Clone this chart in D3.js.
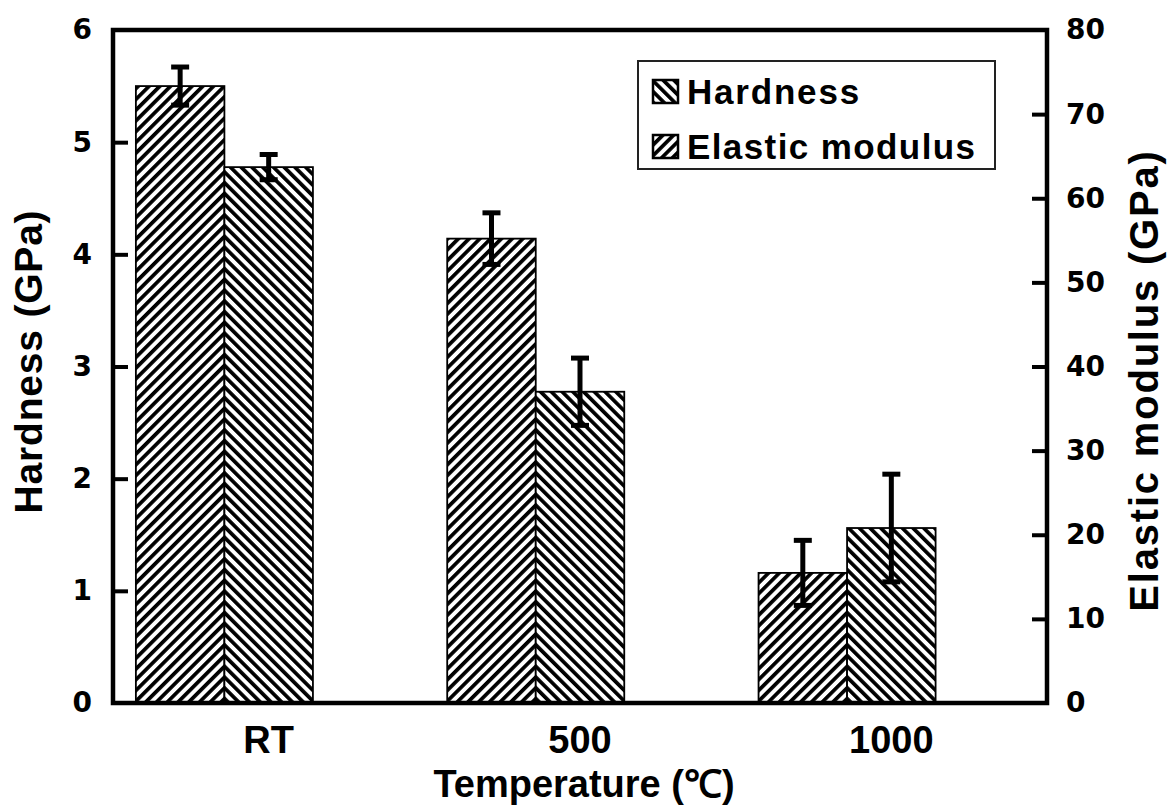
<!DOCTYPE html>
<html>
<head>
<meta charset="utf-8">
<script src="https://cdn.jsdelivr.net/npm/d3@7"></script>
<style>
  html, body { margin: 0; padding: 0; background: #fff; }
  svg { display: block; }
  text { font-family: "Liberation Sans", Arial, sans-serif; font-weight: bold; fill: #000; }
</style>
</head>
<body>
<svg id="chart" width="1174" height="808"></svg>
<script>
// ---- data ----
const categories = ["RT", "500", "1000"];
const seriesNames = ["Hardness", "Elastic modulus"];
const hardness = [5.50, 4.14, 1.16];
const hardnessErr = [0.17, 0.23, 0.29];
const modulus = [63.7, 37.0, 20.8];
const modulusErr = [1.5, 4.0, 6.4];
const leftTicks = [0, 1, 2, 3, 4, 5, 6];
const rightTicks = [0, 10, 20, 30, 40, 50, 60, 70, 80];

// ---- layout ----
const W = 1174, H = 808;
const L = 113, R = 1047, T = 30, B = 703;

const svg = d3.select("#chart");
svg.append("rect").attr("width", W).attr("height", H).attr("fill", "#fff");

// patterns
const defs = svg.append("defs");
const period = 7.6, stripe = 3.7;
function hatch(id, angle) {
  const p = defs.append("pattern")
    .attr("id", id).attr("patternUnits", "userSpaceOnUse")
    .attr("width", period).attr("height", period)
    .attr("patternTransform", `rotate(${angle})`);
  p.append("rect").attr("width", period).attr("height", period).attr("fill", "#fff");
  p.append("rect").attr("x", 0).attr("y", 0).attr("width", stripe).attr("height", period).attr("fill", "#000");
}
hatch("fwd", 45);   // "/" stripes
hatch("back", -45); // "\" stripes

// scales
const x0 = d3.scaleBand().domain(categories).range([L, R])
  .paddingInner(0.147).paddingOuter(0.0735);
const x1 = d3.scaleBand().domain([0, 1, 2]).range([0, x0.bandwidth()]);
const yL = d3.scaleLinear().domain([0, 6]).range([B, T]);
const yR = d3.scaleLinear().domain([0, 80]).range([B, T]);

// bars
const groups = svg.append("g").selectAll("g").data(categories).join("g")
  .attr("transform", d => `translate(${x0(d)},0)`);

groups.append("rect")
  .attr("x", x1(0)).attr("width", x1.bandwidth())
  .attr("y", (d, i) => yL(hardness[i]))
  .attr("height", (d, i) => B - yL(hardness[i]))
  .attr("fill", "url(#fwd)").attr("stroke", "#000").attr("stroke-width", 1.8);

groups.append("rect")
  .attr("x", x1(1)).attr("width", x1.bandwidth())
  .attr("y", (d, i) => yR(modulus[i]))
  .attr("height", (d, i) => B - yR(modulus[i]))
  .attr("fill", "url(#back)").attr("stroke", "#000").attr("stroke-width", 1.8);

// error bars
function errBar(g, cx, yScale, vals, errs) {
  g.append("line")
    .attr("x1", cx).attr("x2", cx)
    .attr("y1", (d, i) => yScale(vals[i] + errs[i]))
    .attr("y2", (d, i) => yScale(vals[i] - errs[i]))
    .attr("stroke", "#000").attr("stroke-width", 5);
  [1, -1].forEach(s => {
    g.append("line")
      .attr("x1", cx - 9).attr("x2", cx + 9)
      .attr("y1", (d, i) => yScale(vals[i] + s * errs[i]))
      .attr("y2", (d, i) => yScale(vals[i] + s * errs[i]))
      .attr("stroke", "#000").attr("stroke-width", 5);
  });
}
errBar(groups, x1(0) + x1.bandwidth() / 2, yL, hardness, hardnessErr);
errBar(groups, x1(1) + x1.bandwidth() / 2, yR, modulus, modulusErr);

// axes
const axL = svg.append("g").attr("transform", `translate(${L},0)`)
  .call(d3.axisLeft(yL).tickValues(leftTicks).tickSize(-15).tickPadding(21).tickFormat(d3.format("d")));
const axR = svg.append("g").attr("transform", `translate(${R},0)`)
  .call(d3.axisRight(yR).tickValues(rightTicks).tickSize(-15).tickPadding(19).tickFormat(d3.format("d")));
[axL, axR].forEach(a => {
  a.select(".domain").remove();
  a.selectAll(".tick line").attr("stroke", "#000").attr("stroke-width", 4);
  a.selectAll(".tick text").style("font-family", "'DejaVu Sans', sans-serif")
    .style("font-weight", "bold").style("font-size", "28px");
});
axL.selectAll(".tick").filter(d => d === 0 || d === 6).select("line").remove();
axR.selectAll(".tick").filter(d => d === 0 || d === 80).select("line").remove();

const axB = svg.append("g").attr("transform", `translate(0,${B})`)
  .call(d3.axisBottom(x0).tickSize(0).tickPadding(23));
axB.select(".domain").remove();
axB.selectAll(".tick text").style("font-size", "38px").style("font-family", "'Liberation Sans', Arial, sans-serif").style("font-weight", "bold");

// frame
svg.append("path")
  .attr("d", `M${L},${T}H${R}V${B}H${L}Z`)
  .attr("fill", "none").attr("stroke", "#000").attr("stroke-width", 4.5);

// axis titles
svg.append("text").attr("x", 584).attr("y", 797).attr("text-anchor", "middle")
  .style("font-size", "38px").text("Temperature (℃)");
svg.append("text").attr("transform", `translate(42,${(T + B) / 2 - 5}) rotate(-90)`)
  .attr("text-anchor", "middle").style("font-size", "39px").style("letter-spacing", "0.8px").text("Hardness (GPa)");
svg.append("text").attr("transform", `translate(1158,${(T + B) / 2 + 14}) rotate(-90)`)
  .attr("text-anchor", "middle").style("font-size", "40px").style("letter-spacing", "1.8px").text("Elastic modulus (GPa)");

// legend
const lg = svg.append("g");
lg.append("rect").attr("x", 638).attr("y", 61).attr("width", 357).attr("height", 108)
  .attr("fill", "#fff").attr("stroke", "#222").attr("stroke-width", 2);
const legendFills = ["url(#back)", "url(#fwd)"];
const legendY = [80, 135];
seriesNames.forEach((name, i) => {
  lg.append("rect").attr("x", 653).attr("y", legendY[i]).attr("width", 25).attr("height", 23)
    .attr("fill", legendFills[i]).attr("stroke", "#000").attr("stroke-width", 2.5);
  lg.append("text").attr("x", 687).attr("y", legendY[i] + 24)
    .style("font-size", "35px").style("letter-spacing", i === 1 ? "1.4px" : "1.8px").text(name);
});
</script>
</body>
</html>
